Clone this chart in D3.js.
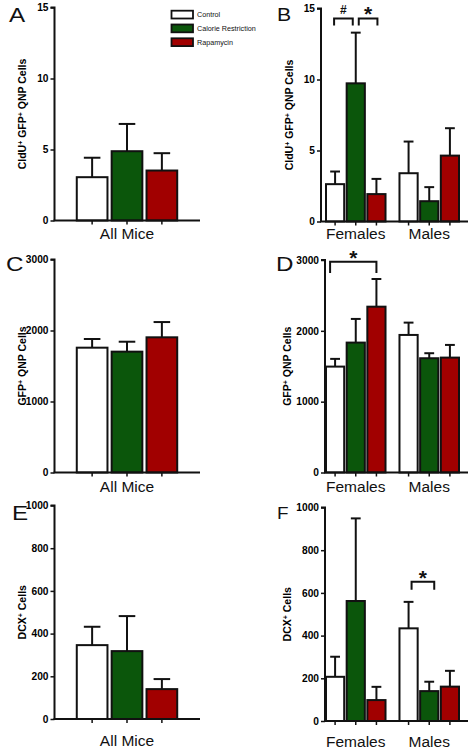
<!DOCTYPE html>
<html><head><meta charset="utf-8">
<script src="https://cdn.jsdelivr.net/npm/d3@7"></script>
<style>body{margin:0;background:#fff}svg{display:block}</style>
</head><body>
<script>
// ---------- data ----------
const conditions = ["Control", "Calorie Restriction", "Rapamycin"];
const sexes = ["Females", "Males"];
const allMice = ["All Mice"];

// A: CldU+ GFP+ QNP cells, all mice
const cldu_all_mean = [3.05, 4.88, 3.52];
const cldu_all_sem  = [1.37, 1.92, 1.22];
// B: CldU+ GFP+ QNP cells by sex
const cldu_f_mean = [2.63, 9.73, 1.93];
const cldu_f_sem  = [0.89, 3.57, 1.07];
const cldu_m_mean = [3.40, 1.43, 4.64];
const cldu_m_sem  = [2.23, 0.99, 1.93];
// C: GFP+ QNP cells, all mice
const gfp_all_mean = [1758, 1702, 1904];
const gfp_all_sem  = [122, 140, 215];
// D: GFP+ QNP cells by sex
const gfp_f_mean = [1495, 1834, 2341];
const gfp_f_sem  = [109, 334, 391];
const gfp_m_mean = [1942, 1613, 1622];
const gfp_m_sem  = [174, 71, 179];
// E: DCX+ cells, all mice
const dcx_all_mean = [346, 318, 140];
const dcx_all_sem  = [86, 164, 47];
// F: DCX+ cells by sex
const dcx_f_mean = [207, 562, 98];
const dcx_f_sem  = [94, 387, 62];
const dcx_m_mean = [434, 140, 161];
const dcx_m_sem  = [124, 44, 74];

// tick labels
const ticksCldu = [0, 5, 10, 15];
const ticksGfp  = [0, 1000, 2000, 3000];
const ticksDcx  = [0, 200, 400, 600, 800, 1000];

// significance annotations: [group, fromCondition, toCondition, label]
const sigB = [["Females", 0, 1, "#"], ["Females", 1, 2, "*"]];
const sigD = [["Females", 0, 2, "*"]];
const sigF = [["Males", 0, 1, "*"]];

// ---------- drawing ----------
const W = 472, H = 750;
const FONT = "'Liberation Sans', Arial, Helvetica, sans-serif";
const fills = ["#ffffff", "#0b560b", "#a10000"];
const INK = "#111";

const svg = d3.select("body").append("svg").attr("width", W).attr("height", H)
  .style("font-family", FONT);
svg.append("rect").attr("width", W).attr("height", H).attr("fill", "#fff");

function panel(cfg) {
  const g = svg.append("g");
  const y = d3.scaleLinear().domain([0, cfg.yMax]).range([cfg.bottom, cfg.top]);
  const outer = d3.scaleBand().domain(cfg.groups.map(d => d.label))
    .range(cfg.barRange).paddingInner(0.19).paddingOuter(0);
  const inner = d3.scaleBand().domain(conditions)
    .range([0, outer.bandwidth()]).paddingInner(0.12).paddingOuter(0);

  // bars
  cfg.groups.forEach(grp => {
    const gx = outer(grp.label);
    conditions.forEach((c, i) => {
      const x0 = gx + inner(c), bw = inner.bandwidth(), cx = x0 + bw / 2;
      const m = grp.means[i], s = grp.sems[i];
      g.append("line").attr("x1", cx).attr("x2", cx)
        .attr("y1", y(m)).attr("y2", y(m + s))
        .attr("stroke", INK).attr("stroke-width", 2);
      g.append("line").attr("x1", cx - bw * 0.27).attr("x2", cx + bw * 0.27)
        .attr("y1", y(m + s)).attr("y2", y(m + s))
        .attr("stroke", INK).attr("stroke-width", 2);
      g.append("rect").attr("x", x0).attr("width", bw)
        .attr("y", y(m)).attr("height", y(0) - y(m))
        .attr("fill", fills[i]).attr("stroke", INK).attr("stroke-width", 2);
      g.append("line").attr("x1", cx).attr("x2", cx)
        .attr("y1", cfg.bottom).attr("y2", cfg.bottom + 4)
        .attr("stroke", INK).attr("stroke-width", 1.5);
    });
    g.append("text").attr("x", gx + outer.bandwidth() / 2 + (cfg.labelDx || 0))
      .attr("y", cfg.bottom + cfg.labelDy)
      .attr("text-anchor", "middle").attr("font-size", 15.5).attr("fill", INK)
      .text(grp.label);
  });

  // y axis
  const ax = g.append("g").attr("transform", `translate(${cfg.axisX},0)`)
    .call(d3.axisLeft(y).tickValues(cfg.ticks).tickSize(4).tickPadding(2).tickFormat(d3.format("d")));
  ax.select(".domain").attr("stroke", INK).attr("stroke-width", 2)
    .attr("d", `M-4,${cfg.top}H0V${cfg.bottom}`);
  ax.selectAll(".tick line").attr("stroke", INK).attr("stroke-width", 1.5);
  ax.selectAll(".tick text").attr("font-size", 10.2).attr("font-weight", "bold")
    .attr("font-family", FONT).attr("fill", "#000");
  g.append("line").attr("x1", cfg.axisX - 1).attr("x2", cfg.right)
    .attr("y1", cfg.bottom).attr("y2", cfg.bottom)
    .attr("stroke", INK).attr("stroke-width", 2);

  // y label
  const yl = g.append("text")
    .attr("transform", `translate(${cfg.ylabelX},${(cfg.top + cfg.bottom) / 2}) rotate(-90)`)
    .attr("text-anchor", "middle").attr("font-size", 10.5).attr("font-weight", "bold")
    .attr("fill", "#000");
  cfg.ylabel.forEach(([t, sup]) => {
    const ts = yl.append("tspan").text(t);
    if (sup) ts.attr("baseline-shift", "super").attr("font-size", 7);
  });

  // panel letter
  g.append("text")
    .attr("transform", `translate(${cfg.letterX},${cfg.letterY}) scale(1.18,1)`)
    .attr("font-size", cfg.letterSize || 20.5).attr("fill", INK).text(cfg.letter);

  // significance brackets
  (cfg.sig || []).forEach(([grpLabel, a, b, lab], k) => {
    const gx = outer(grpLabel);
    const xa = gx + inner(conditions[a]) + inner.bandwidth() / 2 + (cfg.sigOff ? cfg.sigOff[k][0] : 0);
    const xb = gx + inner(conditions[b]) + inner.bandwidth() / 2 + (cfg.sigOff ? cfg.sigOff[k][1] : 0);
    const yt = y(cfg.sigTop), yb = y(cfg.sigLeg);
    g.append("path").attr("d", `M${xa},${yb}V${yt}H${xb}V${yb}`)
      .attr("fill", "none").attr("stroke", INK).attr("stroke-width", 2);
    g.append("text").attr("x", (xa + xb) / 2)
      .attr("y", lab === "*" ? yt + 3 : yt - 4)
      .attr("text-anchor", "middle").attr("font-weight", "bold")
      .attr("font-size", lab === "*" ? 21 : 12).attr("fill", INK).text(lab);
  });
}

const labCldu = [["CldU", false], ["+", true], [" GFP", false], ["+", true], [" QNP Cells", false]];
const labGfp = [["GFP", false], ["+", true], [" QNP Cells", false]];
const labDcx = [["DCX", false], ["+", true], [" Cells", false]];

panel({ letter: "A", letterX: 9, letterY: 21.5, axisX: 54.5, top: 7.5, bottom: 220.5, right: 200,
  barRange: [65, 189], yMax: 15, ticks: ticksCldu, ylabel: labCldu, ylabelX: 26, labelDy: 18,
  groups: [{ label: allMice[0], means: cldu_all_mean, sems: cldu_all_sem }] });

panel({ letter: "B", letterX: 277, letterY: 20.5, axisX: 321, top: 8.5, bottom: 221.5, right: 468,
  barRange: [326, 459], yMax: 15, ticks: ticksCldu, ylabel: labCldu, ylabelX: 293, labelDy: 17,
  groups: [{ label: sexes[0], means: cldu_f_mean, sems: cldu_f_sem },
           { label: sexes[1], means: cldu_m_mean, sems: cldu_m_sem }],
  sig: sigB, sigTop: 14.3, sigLeg: 13.8, sigOff: [[-1, -3], [3, 1]], letterSize: 18 });

panel({ letter: "C", letterX: 6, letterY: 271, axisX: 54.5, top: 259.5, bottom: 472.5, right: 200,
  barRange: [65, 189], yMax: 3000, ticks: ticksGfp, ylabel: labGfp, ylabelX: 26, labelDy: 19,
  groups: [{ label: allMice[0], means: gfp_all_mean, sems: gfp_all_sem }] });

panel({ letter: "D", letterX: 276, letterY: 271, axisX: 325, top: 260, bottom: 472.5, right: 468,
  barRange: [326, 459], yMax: 3000, ticks: ticksGfp, ylabel: labGfp, ylabelX: 291, labelDy: 19,
  groups: [{ label: sexes[0], means: gfp_f_mean, sems: gfp_f_sem },
           { label: sexes[1], means: gfp_m_mean, sems: gfp_m_sem }],
  sig: sigD, sigTop: 2975, sigLeg: 2815, sigOff: [[-5, 0]] });

panel({ letter: "E", letterX: 12, letterY: 519.5, axisX: 54.5, top: 505.5, bottom: 719, right: 200,
  barRange: [65, 189], yMax: 1000, ticks: ticksDcx, ylabel: labDcx, ylabelX: 26, labelDy: 27,
  groups: [{ label: allMice[0], means: dcx_all_mean, sems: dcx_all_sem }] });

panel({ letter: "F", letterX: 277, letterY: 518.5, axisX: 325, top: 507.5, bottom: 721, right: 468,
  barRange: [326, 459], yMax: 1000, ticks: ticksDcx, ylabel: labDcx, ylabelX: 291, labelDy: 26,
  groups: [{ label: sexes[0], means: dcx_f_mean, sems: dcx_f_sem },
           { label: sexes[1], means: dcx_m_mean, sems: dcx_m_sem }],
  sig: sigF, sigTop: 652, sigLeg: 615, sigOff: [[3, 5]], letterSize: 16 });

// legend
const lg = svg.append("g");
conditions.forEach((c, i) => {
  const yy = 10.7 + i * 13.8;
  lg.append("rect").attr("x", 171.5).attr("y", yy).attr("width", 21.5).attr("height", 7.8)
    .attr("fill", fills[i]).attr("stroke", INK).attr("stroke-width", 1.8);
  lg.append("text").attr("x", 197).attr("y", yy + 6.6).attr("font-size", 7.2)
    .attr("fill", INK).text(c);
});
</script>
</body></html>
